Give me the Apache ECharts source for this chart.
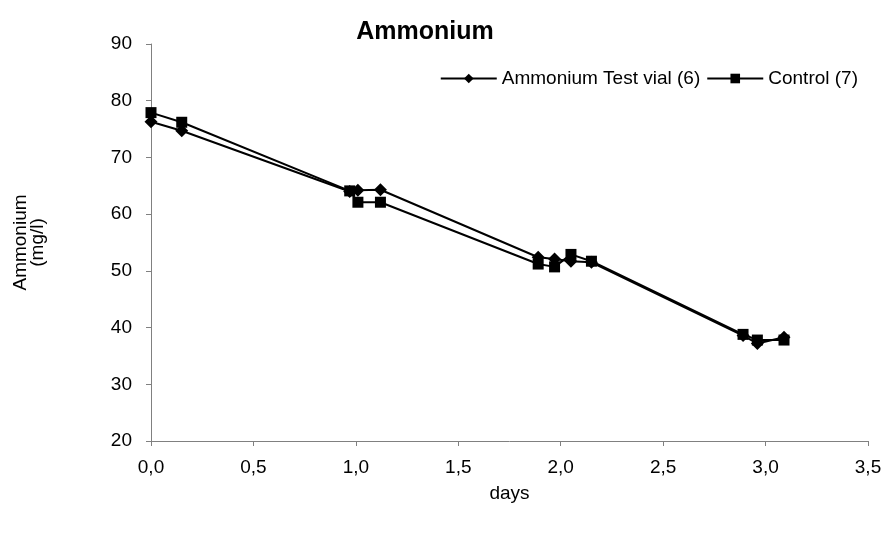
<!DOCTYPE html>
<html>
<head>
<meta charset="utf-8">
<script src="https://cdn.jsdelivr.net/npm/echarts@6/dist/echarts.min.js"></script>
<style>
  html, body { margin: 0; padding: 0; background: #fff; }
  #chart { width: 885px; height: 533px; }
</style>
</head>
<body>
<div id="chart"></div>
<script>
// days / mg/l
const testDays = [0.0, 0.15, 0.97, 1.01, 1.12, 1.89, 1.97, 2.05, 2.15, 2.89, 2.96, 3.09]
const testValues = [76.3, 74.7, 64.0, 64.2, 64.3, 52.4, 52.1, 51.7, 51.5, 38.6, 37.2, 38.3]
const controlDays = [0.0, 0.15, 0.97, 1.01, 1.12, 1.89, 1.97, 2.05, 2.15, 2.89, 2.96, 3.09]
const controlValues = [77.9, 76.2, 64.1, 62.1, 62.1, 51.2, 50.7, 52.9, 51.7, 38.8, 37.8, 37.8]

const pairs = (xs, ys) => xs.map((x, i) => [x, ys[i]])

const chart = echarts.init(document.getElementById('chart'))

const font = 'Liberation Sans, Arial, sans-serif'
const axisGray = '#808080'

chart.setOption({
  animation: false,
  textStyle: { fontFamily: font },
  title: {
    text: 'Ammonium',
    left: 420,
    top: 15,
    textAlign: 'center',
    textStyle: { fontSize: 25, fontWeight: 'bold', color: '#000', fontFamily: font },
  },
  legend: {
    right: 22,
    top: 64,
    itemWidth: 56,
    itemHeight: 12,
    itemGap: 6,
    textStyle: { fontSize: 19, color: '#000', fontFamily: font },
    data: ['Ammonium Test vial (6)', 'Control (7)'],
  },
  grid: { left: 151, right: 17, top: 44, bottom: 92, outerBoundsMode: 'none', containLabel: false },
  xAxis: {
    type: 'value',
    min: 0,
    max: 3.5,
    interval: 0.5,
    name: 'days',
    nameLocation: 'middle',
    nameGap: 43,
    nameTextStyle: { fontSize: 19, color: '#000' },
    axisLine: { lineStyle: { color: axisGray, width: 1 } },
    axisTick: { show: true, length: 5, lineStyle: { color: axisGray } },
    axisLabel: {
      fontSize: 19,
      color: '#000',
      margin: 17,
      formatter: (v) => v.toFixed(1).replace('.', ','),
    },
    splitLine: { show: false },
  },
  yAxis: {
    type: 'value',
    min: 20,
    max: 90,
    interval: 10,
    name: 'Ammonium\n(mg/l)',
    nameLocation: 'middle',
    nameGap: 105,
    nameRotate: 90,
    nameTextStyle: { fontSize: 19, color: '#000', lineHeight: 17 },
    axisLine: { show: true, lineStyle: { color: axisGray, width: 1 } },
    axisTick: { show: true, length: 5, lineStyle: { color: axisGray } },
    axisLabel: { fontSize: 19, color: '#000', margin: 19 },
    splitLine: { show: false },
  },
  series: [
    {
      name: 'Ammonium Test vial (6)',
      type: 'line',
      data: pairs(testDays, testValues),
      symbol: 'diamond',
      symbolSize: 13,
      showAllSymbol: true,
      lineStyle: { color: '#000', width: 2 },
      itemStyle: { color: '#000' },
    },
    {
      name: 'Control (7)',
      type: 'line',
      data: pairs(controlDays, controlValues),
      symbol: 'rect',
      symbolSize: 11,
      showAllSymbol: true,
      lineStyle: { color: '#000', width: 2 },
      itemStyle: { color: '#000' },
    },
  ],
})
</script>
</body>
</html>
